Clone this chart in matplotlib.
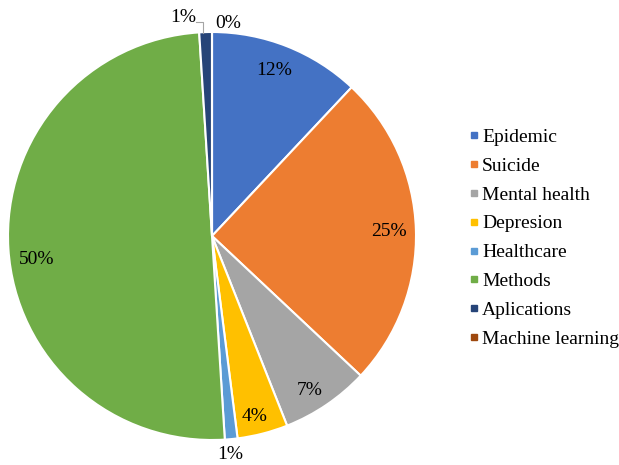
import matplotlib
matplotlib.use('Agg')
import matplotlib.pyplot as plt
from matplotlib.lines import Line2D

# data
categories = ['Epidemic', 'Suicide', 'Mental health', 'Depresion', 'Healthcare',
              'Methods', 'Aplications', 'Machine learning']
shares = [12, 25, 7, 4, 1, 50, 1, 0]
pct_labels = ['12%', '25%', '7%', '4%', '1%', '50%', '1%', '0%']

colors = ['#4472C4', '#ED7D31', '#A5A5A5', '#FFC000', '#5B9BD5',
          '#70AD47', '#264478', '#9E480E']
# label spots in pie radius units (excel best-fit placement)
label_xy = [(0.304, 0.81), (0.868, 0.02), (0.48, -0.756), (0.21, -0.887),
            (0.088, -1.069), (-0.858, -0.113), (-0.142, 1.069), (0.078, 1.044)]

plt.rcParams['font.family'] = ['Liberation Serif', 'DejaVu Serif']
fs = 14

fig = plt.figure(figsize=(6.19, 4.65), dpi=100)
ax = fig.add_axes([8/619, 25/465, 408/619, 408/465])
ax.pie(shares, colors=colors, startangle=90, counterclock=False,
       wedgeprops=dict(edgecolor='white', linewidth=1.5))
ax.set_xlim(-1, 1)
ax.set_ylim(-1, 1)
ax.set_aspect('equal')

for i, txt in enumerate(pct_labels):
    ax.text(label_xy[i][0], label_xy[i][1], txt, ha='center', va='center',
            fontsize=fs, clip_on=False)

# leader line for the small "Aplications" slice
ax.plot([-0.078, -0.044, -0.044], [1.047, 1.047, 0.995], color='#A5A5A5', lw=0.8, clip_on=False)

handles = [Line2D([], [], marker='s', linestyle='none', markersize=5,
                  markerfacecolor=c, markeredgecolor=c) for c in colors]
fig.legend(handles, categories, loc='center left', bbox_to_anchor=(470/619, 0.488),
           frameon=False, fontsize=fs, handlelength=0.4, handletextpad=0.22,
           labelspacing=0.58, borderpad=0, borderaxespad=0)

fig.savefig('out.png', dpi=100)
